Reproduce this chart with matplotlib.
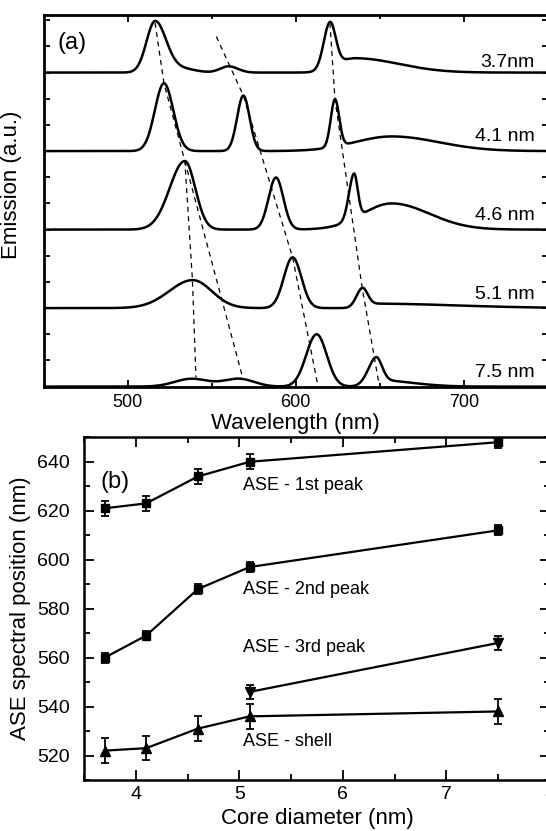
import numpy as np
import matplotlib
matplotlib.use('Agg')
import matplotlib.pyplot as plt
from matplotlib.ticker import MultipleLocator

plt.rcParams['font.family'] = ['Liberation Sans', 'DejaVu Sans']

# ---- panel (a): emission spectra, stacked ----
sample_labels = ['3.7nm', '4.1 nm', '4.6 nm', '5.1 nm', '7.5 nm']
sample_offsets = [12, 9, 6, 3, 0]
label_lift = [0.23, 0.38, 0.38, 0.36, 0.35]

# peaks: (centre nm, height, left width, right width)
peaks_37 = [(516.3, 1.95, 5.1, 6.5), (532.0, 0.15, 8.0, 8.0),
            (560.0, 0.24, 5.0, 5.5), (620.3, 1.75, 3.7, 3.4),
            (635.0, 0.55, 10.0, 26.0)]
peaks_41 = [(521.6, 2.59, 5.4, 5.5), (568.8, 2.12, 3.7, 3.7),
            (623.3, 1.81, 2.5, 2.5), (657.0, 0.56, 22.0, 28.0)]
peaks_46 = [(534.0, 2.62, 9.0, 6.2), (588.2, 1.99, 4.4, 4.4),
            (634.6, 1.71, 3.0, 2.2), (657.0, 1.00, 17.3, 22.5)]
peaks_51 = [(538.7, 1.07, 14.0, 11.3), (598.1, 1.94, 5.2, 5.2),
            (639.5, 0.68, 3.5, 3.0), (645.0, 0.17, 5.0, 50.0)]
peaks_75 = [(538.0, 0.30, 10.0, 10.0), (566.0, 0.30, 9.0, 9.0),
            (612.4, 2.00, 6.2, 6.0), (647.7, 0.90, 5.0, 3.5),
            (649.0, 0.24, 4.0, 20.0)]
all_peaks = [peaks_37, peaks_41, peaks_46, peaks_51, peaks_75]

# dashed guides through the peak tops (wavelength, stacked height)
guide_shell_x = [516.3, 521.6, 534.0, 538.5, 540.6]
guide_shell_y = [13.9, 11.59, 8.62, 4.1, 0.35]
guide_3rd_x = [534.0, 568.8]
guide_3rd_y = [8.62, 0.25]
guide_2nd_x = [552.7, 568.8, 598.1, 612.8]
guide_2nd_y = [13.38, 11.12, 4.94, 0.15]
guide_1st_x = [620.3, 623.3, 639.5, 649.2]
guide_1st_y = [13.9, 10.98, 3.77, 0.2]

# ---- panel (b): ASE peak positions ----
core_d = [3.7, 4.1, 4.6, 5.1, 7.5]
ase_1st = [621, 623, 634, 640, 648]
ase_1st_err = [3, 3, 3, 3, 2.5]
ase_2nd = [560, 569, 588, 597, 612]
ase_2nd_err = [2, 2, 2, 2, 2]
core_d_3rd = [5.1, 7.5]
ase_3rd = [546, 566]
ase_3rd_err = [3, 3]
ase_shell = [522, 523, 531, 536, 538]
ase_shell_err = [5, 5, 5, 5, 5]


def asym_gauss(wl, centre, height, w_left, w_right):
    w = np.where(wl < centre, w_left, w_right)
    return height * np.exp(-(wl - centre) ** 2 / (2 * w ** 2))


W, H = 546.0, 831.0
fig = plt.figure(figsize=(W / 100, H / 100), dpi=100)
ax_a = fig.add_axes([43.6 / W, 1 - 386.6 / H, (548.0 - 43.6) / W, (386.6 - 15.0) / H])
ax_b = fig.add_axes([84.0 / W, 1 - 780.0 / H, (550.0 - 84.0) / W, (780.0 - 437.3) / H])

wl = np.linspace(450, 750, 1501)
for peaks, off, lab, lift in zip(all_peaks, sample_offsets, sample_labels, label_lift):
    spec = np.zeros_like(wl)
    for p in peaks:
        spec += asym_gauss(wl, *p)
    ax_a.plot(wl, spec + off, color='black', lw=1.8, solid_capstyle='butt')
    ax_a.text(742, off + lift, lab, ha='right', va='baseline', fontsize=14)

for gx, gy in [(guide_shell_x, guide_shell_y), (guide_3rd_x, guide_3rd_y),
               (guide_2nd_x, guide_2nd_y), (guide_1st_x, guide_1st_y)]:
    ax_a.plot(gx, gy, color='black', lw=0.9, ls=(0, (4, 3.5)))

ax_a.set_xlim(450, 750)
ax_a.set_ylim(0, 14.2)
ax_a.xaxis.set_major_locator(MultipleLocator(100))
ax_a.xaxis.set_minor_locator(MultipleLocator(50))
ax_a.yaxis.set_major_locator(MultipleLocator(1))
ax_a.set_yticklabels([])
ax_a.tick_params(which='both', direction='in', top=True, right=True, width=1.3)
ax_a.tick_params(which='major', length=5, labelsize=13, pad=5)
ax_a.tick_params(which='minor', length=3)
ax_a.tick_params(axis='y', length=4)
for s in ax_a.spines.values():
    s.set_linewidth(2.0)
ax_a.set_xlabel('Wavelength (nm)', fontsize=16, labelpad=2)
ax_a.set_ylabel('Emission (a.u.)', fontsize=16)
ax_a.yaxis.set_label_coords(-0.042, 0.543)
ax_a.text(0.027, 0.925, '(a)', transform=ax_a.transAxes, fontsize=17,
          ha='left', va='center')

# panel (b)
eb = dict(color='black', lw=1.6, elinewidth=1.3, capsize=3.2, capthick=1.3)
ax_b.errorbar(core_d, ase_1st, yerr=ase_1st_err, marker='s', ms=6, **eb)
ax_b.errorbar(core_d, ase_2nd, yerr=ase_2nd_err, marker='s', ms=6, **eb)
ax_b.errorbar(core_d_3rd, ase_3rd, yerr=ase_3rd_err, marker='v', ms=7, **eb)
ax_b.errorbar(core_d, ase_shell, yerr=ase_shell_err, marker='^', ms=7, **eb)

ax_b.text(5.04, 630.3, 'ASE - 1st peak', fontsize=13, va='center')
ax_b.text(5.04, 587.7, 'ASE - 2nd peak', fontsize=13, va='center')
ax_b.text(5.04, 564.3, 'ASE - 3rd peak', fontsize=13, va='center')
ax_b.text(5.04, 525.8, 'ASE - shell', fontsize=13, va='center')
ax_b.text(0.036, 0.87, '(b)', transform=ax_b.transAxes, fontsize=17,
          ha='left', va='center')

ax_b.set_xlim(3.5, 8)
ax_b.set_ylim(510, 650)
ax_b.xaxis.set_major_locator(MultipleLocator(1))
ax_b.xaxis.set_minor_locator(MultipleLocator(0.5))
ax_b.yaxis.set_major_locator(MultipleLocator(20))
ax_b.yaxis.set_minor_locator(MultipleLocator(10))
ax_b.tick_params(which='both', direction='in', top=True, right=True, width=1.3)
ax_b.tick_params(which='major', length=7, labelsize=14)
ax_b.tick_params(axis='x', which='major', pad=4)
ax_b.tick_params(axis='y', which='major', pad=10)
ax_b.tick_params(which='minor', length=4)
for s in ax_b.spines.values():
    s.set_linewidth(1.8)
ax_b.set_xlabel('Core diameter (nm)', fontsize=16, labelpad=4)
ax_b.set_ylabel('ASE spectral position (nm)', fontsize=16)
ax_b.yaxis.set_label_coords(-0.113, 0.5)

fig.savefig('out.png', dpi=100)
